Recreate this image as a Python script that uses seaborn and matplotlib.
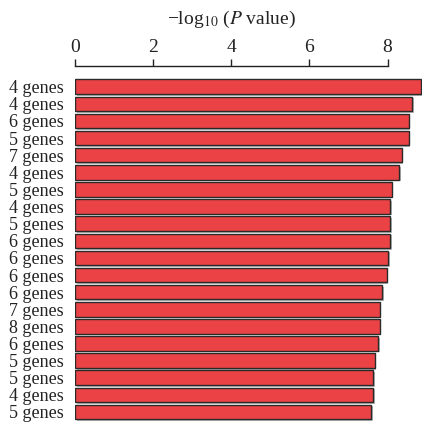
import numpy as np
import pandas as pd
import matplotlib
matplotlib.use("Agg")
import matplotlib.pyplot as plt
import matplotlib.patheffects as pe
import seaborn as sns

# valores
rotulos = ["4 genes", "4 genes", "6 genes", "5 genes", "7 genes", "4 genes",
           "5 genes", "4 genes", "5 genes", "6 genes", "6 genes", "6 genes",
           "6 genes", "7 genes", "8 genes", "6 genes", "5 genes", "5 genes",
           "4 genes", "5 genes"]
valores = [8.85, 8.63, 8.54, 8.54, 8.36, 8.29, 8.11, 8.06, 8.06, 8.06,
           8.01, 7.98, 7.86, 7.80, 7.80, 7.76, 7.67, 7.63, 7.63, 7.58]

df = pd.DataFrame({"idx": np.arange(len(valores)), "valor": valores})

sns.set_style("white")
plt.rcParams["font.family"] = ["Liberation Serif", "DejaVu Serif"]
plt.rcParams["mathtext.fontset"] = "stix"

fig = plt.figure(figsize=(4.22, 4.28), dpi=100)
W, H = 422, 428
x0, x1 = 75, 421.5
ytop = 65.7
ax = fig.add_axes([x0 / W, 0, (x1 - x0) / W, 1 - ytop / H])

sns.barplot(data=df, x="valor", y="idx", orient="h", ax=ax,
            color="#EB4245", edgecolor="#2a2a2a", linewidth=1.0,
            width=0.85, saturation=1)

for p in ax.patches:
    p.set_path_effects([pe.SimplePatchShadow(offset=(1.2, -1.2), shadow_rgbFace="#999999", alpha=0.7),
                        pe.Normal()])

xmax = 8.87
ax.set_xlim(0, xmax)
# eixo y: 17.12 px por categoria
pitch = 17.12
ax.set_ylim(19 + (H - 412) / pitch, -(86.7 - ytop) / pitch)

ax.set_yticks(range(len(rotulos)))
ax.set_yticklabels(rotulos)
ax.set_ylabel("")

ax.xaxis.set_ticks_position("top")
ax.xaxis.set_label_position("top")
ax.set_xticks([0, 2, 4, 6, 8])
ax.set_xlabel("\u2212log$_{10}$ ($P$ value)", fontsize=14, labelpad=11, color="#222222")
ax.xaxis.label.set_x(4 / xmax)

for s in ["right", "bottom", "left"]:
    ax.spines[s].set_visible(False)
ax.spines["top"].set_bounds(0, 8)
ax.spines["top"].set_color("#222222")
ax.spines["top"].set_linewidth(1.0)

ax.tick_params(axis="x", direction="out", length=5, width=1.0, color="#222222",
               labelsize=14, labelcolor="#222222", pad=2)
ax.tick_params(axis="y", length=0, labelsize=13, labelcolor="#222222", pad=8)

fig.savefig("out.png", dpi=100)
